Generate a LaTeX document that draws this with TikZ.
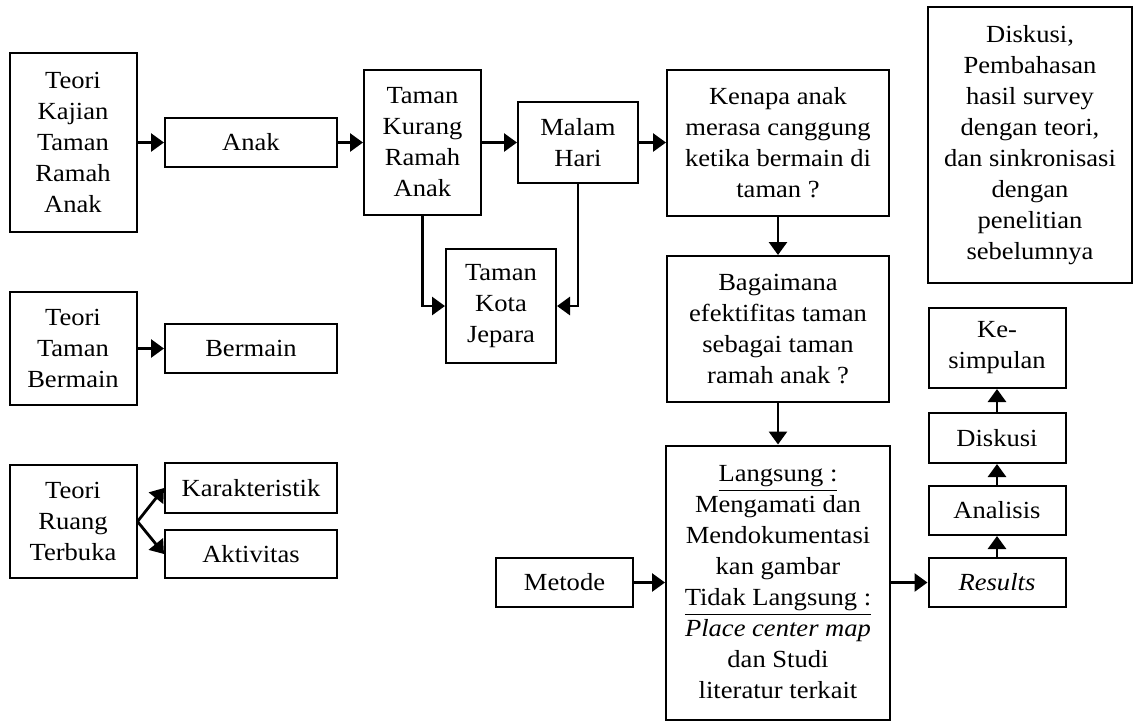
\documentclass[tikz,border=0pt]{standalone}
\usepackage{fontspec}
\setmainfont{Liberation Serif}[FakeStretch=1.08]
\usepackage{tikz}
\usetikzlibrary{arrows.meta}

\begin{document}
\begin{tikzpicture}[
		x=0.5pt, y=-0.5pt,
		every node/.style={rectangle, draw, line width=1pt, inner sep=0pt, align=center,
			font=\fontsize{12.3pt}{15.5pt}\selectfont},
		arr/.style={line width=1.4pt, -{Triangle[length=6.5pt, width=9pt]}}
	]
  \useasboundingbox (0, 0) rectangle (1137, 720);
  % first row
  \node (t_kajian) [minimum width=63.5pt, minimum height=89.5pt] at (73, 142.5) {Teori\\Kajian\\Taman\\Ramah\\Anak};
  \node (anak) [minimum width=86pt, minimum height=24.5pt] at (251, 142.5) {Anak};
  \node (t_kurang) [minimum width=58.5pt, minimum height=72.5pt] at (422.5, 142.5) {Taman\\Kurang\\Ramah\\Anak};
  \node (malam) [minimum width=60pt, minimum height=40.5pt] at (578, 142.5) {Malam\\Hari};
  \node (kenapa) [minimum width=111pt, minimum height=73pt] at (778, 142.5) {Kenapa anak\\merasa canggung\\ketika bermain di\\taman ?};
  \node (diskusi_1) [minimum width=102pt, minimum height=138pt] at (1030, 145) {Diskusi,\\Pembahasan\\hasil survey\\dengan teori,\\dan sinkronisasi\\dengan\\penelitian\\sebelumnya};
  \node (kota) [minimum width=55pt, minimum height=57pt] at (501, 306) {Taman\\Kota\\Jepara};
  \node (bagaimana) [minimum width=111pt, minimum height=73pt] at (778, 329) {Bagaimana\\efektifitas taman\\sebagai taman\\ramah anak ?};
  % theories on the left
  \node (t_bermain) [minimum width=63.5pt, minimum height=56.5pt] at (73, 348.5) {Teori\\Taman\\Bermain};
  \node (bermain) [minimum width=86pt, minimum height=24.5pt] at (251, 348.5) {Bermain};
  \node (t_ruang) [minimum width=63.5pt, minimum height=56.5pt] at (73, 521.5) {Teori\\Ruang\\Terbuka};
  \node (karakter) [minimum width=86pt, minimum height=25pt] at (251, 488) {Karakteristik};
  \node (aktivitas) [minimum width=86pt, minimum height=24pt] at (251, 554) {Aktivitas};
  % method and results
  \node (metode) [minimum width=68.5pt, minimum height=24.5pt] at (564.5, 582.5) {Metode};
  \node (langsung) [minimum width=112pt, minimum height=137pt] at (778, 582.5) {\underline{Langsung :}\\Mengamati dan\\Mendokumentasi\\kan gambar\\\underline{Tidak Langsung :}\\\textit{Place center map}\\dan Studi\\literatur terkait};
  \node (results) [minimum width=68.5pt, minimum height=24.5pt] at (997, 582.5) {\textit{Results}};
  \node (analisis) [minimum width=68.5pt, minimum height=24.5pt] at (997, 510.5) {Analisis};
  \node (diskusi_2) [minimum width=68.5pt, minimum height=25pt] at (997, 438) {Diskusi};
  \node (simpulan) [minimum width=68.5pt, minimum height=40pt] at (997, 348) {Ke-\\simpulan};
  \draw [arr] (t_kajian) -- (anak);
  \draw [arr] (anak) -- (t_kurang);
  \draw [arr] (t_kurang) -- (malam);
  \draw [arr] (malam) -- (kenapa);
  \draw [arr] (t_kurang) |- (kota);
  \draw [arr] (malam) |- (kota);
  \draw [arr] (kenapa) -- (bagaimana);
  \draw [arr] (bagaimana) -- (langsung);
  \draw [arr] (t_bermain) -- (bermain);
  \draw [arr] (t_ruang.east) -- (karakter.west);
  \draw [arr] (t_ruang.east) -- (aktivitas.west);
  \draw [arr] (metode) -- (langsung);
  \draw [arr] (langsung) -- (results);
  \draw [arr] (results) -- (analisis);
  \draw [arr] (analisis) -- (diskusi_2);
  \draw [arr] (diskusi_2) -- (simpulan);
\end{tikzpicture}
\end{document}
